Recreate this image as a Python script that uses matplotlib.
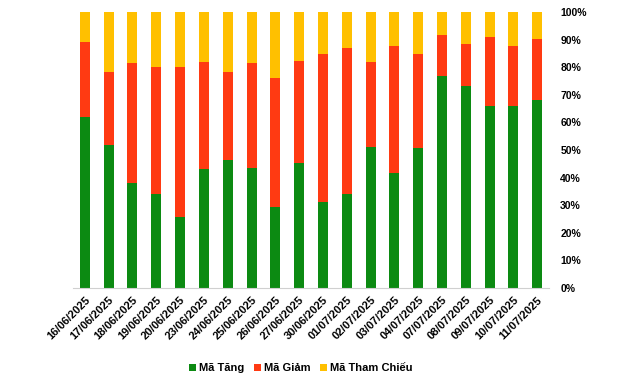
import numpy as np
import matplotlib.pyplot as plt
from matplotlib.ticker import FuncFormatter

plt.rcParams['font.family'] = ['Liberation Sans', 'DejaVu Sans']

# Tỷ lệ mã tăng / giảm / tham chiếu (%)
ngay = ["16/06/2025", "17/06/2025", "18/06/2025", "19/06/2025", "20/06/2025",
        "23/06/2025", "24/06/2025", "25/06/2025", "26/06/2025", "27/06/2025",
        "30/06/2025", "01/07/2025", "02/07/2025", "03/07/2025", "04/07/2025",
        "07/07/2025", "08/07/2025", "09/07/2025", "10/07/2025", "11/07/2025"]
ma_tang = [62.0, 51.8, 38.0, 34.2, 25.7, 43.1, 46.4, 43.6, 29.3, 45.3,
           31.3, 34.2, 51.1, 41.7, 50.8, 76.8, 73.2, 65.9, 65.9, 68.1]
ma_giam = [27.1, 26.5, 43.5, 45.9, 54.4, 38.8, 31.9, 37.9, 46.8, 36.9,
           53.5, 52.8, 30.8, 46.0, 34.0, 14.9, 15.2, 25.0, 21.8, 22.1]
ma_tham_chieu = [10.9, 21.7, 18.5, 19.9, 19.9, 18.1, 21.7, 18.5, 23.9, 17.8,
                 15.2, 13.0, 18.1, 12.3, 15.2, 8.3, 11.6, 9.1, 12.3, 9.8]

xanh, do, vang = '#0C8A12', '#FF3A12', '#FFC000'

fig = plt.figure(figsize=(6.4, 3.79), dpi=100)
ax = fig.add_axes([0.114, 0.240, 0.744, 0.728])

x = np.arange(len(ngay))
tang = np.array(ma_tang)
giam = np.array(ma_giam)
tham = np.array(ma_tham_chieu)
w = 0.42
ax.bar(x, tang, w, color=xanh, label='Mã Tăng')
ax.bar(x, giam, w, bottom=tang, color=do, label='Mã Giảm')
ax.bar(x, tham, w, bottom=tang + giam, color=vang, label='Mã Tham Chiếu')

ax.set_xlim(-0.5, len(ngay) - 0.5)
ax.set_ylim(0, 100)
ax.yaxis.tick_right()
ax.set_yticks(np.arange(0, 101, 10))
ax.yaxis.set_major_formatter(FuncFormatter(lambda v, p: f"{v:.0f}%"))
ax.tick_params(axis='y', length=0, pad=8, labelsize=7.5)
for t in ax.get_yticklabels():
    t.set_fontweight('bold')

ax.set_xticks(x)
ax.set_xticklabels(ngay, rotation=45, ha='right', rotation_mode='anchor',
                   fontsize=8, fontweight='bold')
ax.tick_params(axis='x', length=0, pad=5)

for s in ['top', 'left', 'right']:
    ax.spines[s].set_visible(False)
ax.spines['bottom'].set_color('#D0D0D0')

fig.legend(loc='center', bbox_to_anchor=(0.47, 0.029), ncol=3, frameon=False,
           handlelength=0.6, handleheight=0.6, handletextpad=0.25,
           columnspacing=0.9, prop={'size': 8, 'weight': 'bold'})

plt.savefig("out.png", dpi=100)
